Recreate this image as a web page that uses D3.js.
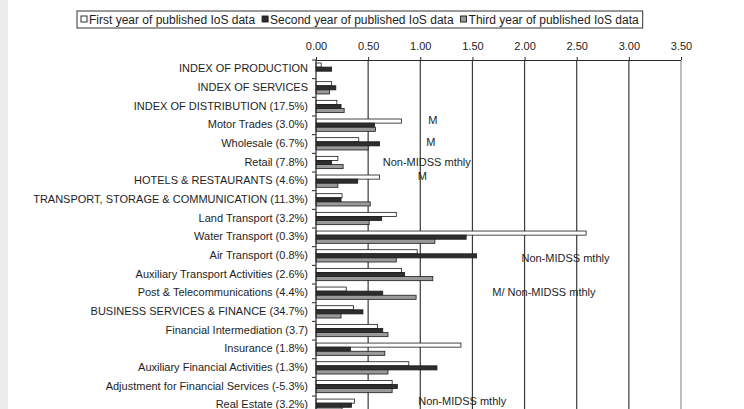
<!DOCTYPE html>
<html><head><meta charset="utf-8">
<script src="https://cdn.jsdelivr.net/npm/d3@7"></script>
<style>
html,body{margin:0;padding:0;background:#fff;overflow:hidden;}
svg{display:block;font-family:"Liberation Sans",Arial,sans-serif;}
</style></head>
<body>
<svg id="chart" width="744" height="409"></svg>
<script>
const categories = [
  "INDEX OF PRODUCTION",
  "INDEX OF SERVICES",
  "INDEX OF DISTRIBUTION (17.5%)",
  "Motor Trades (3.0%)",
  "Wholesale (6.7%)",
  "Retail (7.8%)",
  "HOTELS & RESTAURANTS (4.6%)",
  "TRANSPORT, STORAGE & COMMUNICATION (11.3%)",
  "Land Transport (3.2%)",
  "Water Transport (0.3%)",
  "Air Transport (0.8%)",
  "Auxiliary Transport Activities (2.6%)",
  "Post & Telecommunications (4.4%)",
  "BUSINESS SERVICES & FINANCE (34.7%)",
  "Financial Intermediation (3.7)",
  "Insurance (1.8%)",
  "Auxiliary Financial Activities (1.3%)",
  "Adjustment for Financial Services (-5.3%)",
  "Real Estate (3.2%)"
];
const seriesNames = [
  "First year of published IoS data",
  "Second year of published IoS data",
  "Third year of published IoS data"
];
const firstYear  = [0.05,0.15,0.20,0.82,0.41,0.21,0.61,0.25,0.77,2.59,0.97,0.82,0.29,0.36,0.59,1.39,0.89,0.73,0.37];
const secondYear = [0.15,0.19,0.24,0.56,0.61,0.15,0.40,0.24,0.63,1.44,1.54,0.85,0.64,0.45,0.64,0.33,1.16,0.78,0.34];
const thirdYear  = [0.00,0.13,0.27,0.57,0.50,0.26,0.21,0.52,0.51,1.14,0.77,1.12,0.96,0.24,0.69,0.66,0.69,0.73,0.25];
const tickValues = [0,0.5,1,1.5,2,2.5,3,3.5];
const annotations = [
  {cat:"Motor Trades (3.0%)", x:1.12, text:"M", anchor:"middle", dy:-4},
  {cat:"Wholesale (6.7%)", x:1.10, text:"M", anchor:"middle", dy:-1},
  {cat:"Retail (7.8%)", x:0.64, text:"Non-MIDSS mthly", anchor:"start", dy:0},
  {cat:"HOTELS & RESTAURANTS (4.6%)", x:1.02, text:"M", anchor:"middle", dy:-4},
  {cat:"Air Transport (0.8%)", x:1.97, text:"Non-MIDSS mthly", anchor:"start", dy:3},
  {cat:"Post & Telecommunications (4.4%)", x:1.69, text:"M/ Non-MIDSS mthly", anchor:"start", dy:0},
  {cat:"Real Estate (3.2%)", x:0.98, text:"Non-MIDSS mthly", anchor:"start", dy:-3}
];

(function(){
const series = [firstYear, secondYear, thirdYear];
const fills = ["#ffffff", "#2e2e2e", "#9a9a9a"];
const svg = d3.select("#chart");
const W = 744, H = 409;

svg.append("rect").attr("x",0).attr("y",0).attr("width",8).attr("height",H).attr("fill","#ececec");

const pl = 316, pr = 681, pt = 60;
const pitch = 18.67;
const x = d3.scaleLinear().domain([0,3.5]).range([pl,pr]);
const y = d3.scaleBand().domain(categories).range([pt, pt + pitch*categories.length]);
const yInner = d3.scaleBand().domain([0,1,2]).range([3, 15.3]);

svg.append("g").selectAll("line").data(tickValues.filter(v=>v>0 && v<3.5)).join("line")
  .attr("x1",d=>x(d)).attr("x2",d=>x(d)).attr("y1",pt).attr("y2",H)
  .attr("stroke","#3a3a3a").attr("stroke-width",1.2);
svg.append("line").attr("x1",x(3.5)).attr("x2",x(3.5)).attr("y1",pt).attr("y2",H)
  .attr("stroke","#bdbdbd").attr("stroke-width",2);

const groups = svg.append("g").selectAll("g").data(categories).join("g")
  .attr("transform", d=>`translate(0,${y(d)})`);
groups.selectAll("rect").data((d,i)=>series.map((s,k)=>({k, v:s[i]}))).join("rect")
  .attr("x", x(0))
  .attr("y", d=>yInner(d.k))
  .attr("width", d=>Math.max(0, x(d.v)-x(0)))
  .attr("height", yInner.bandwidth())
  .attr("fill", d=>fills[d.k])
  .attr("stroke", d=>d.v>0 ? "#1a1a1a" : "none")
  .attr("stroke-width", 0.8);

const xAxis = d3.axisTop(x).tickValues(tickValues).tickFormat(d3.format(".2f")).tickSize(3).tickPadding(7);
const gx = svg.append("g").attr("transform",`translate(0,${pt})`).call(xAxis);
gx.select(".domain").attr("stroke","#2a2a2a").attr("d",`M${pl},0.5H${pr}`);
gx.selectAll(".tick line").attr("stroke","#2a2a2a");
gx.selectAll(".tick text").attr("font-size",11).attr("fill","#222").attr("font-family","Liberation Sans, Arial, sans-serif");

const yTicks = d3.range(categories.length+1).map(i=>pt + i*pitch);
svg.append("line").attr("x1",pl).attr("x2",pl).attr("y1",pt).attr("y2",H).attr("stroke","#2a2a2a").attr("stroke-width",1.2);
svg.append("g").selectAll("line").data(yTicks).join("line")
  .attr("x1",pl-4).attr("x2",pl).attr("y1",d=>d).attr("y2",d=>d).attr("stroke","#2a2a2a");
svg.append("g").selectAll("text").data(categories).join("text")
  .attr("x", 308).attr("y", d=>y(d)+y.bandwidth()/2)
  .attr("text-anchor","end").attr("dominant-baseline","middle")
  .attr("font-size",11).attr("fill","#1e1e1e").text(d=>d);

svg.append("g").selectAll("text").data(annotations).join("text")
  .attr("x", d=>x(d.x)).attr("y", d=>y(d.cat)+y.bandwidth()/2 + d.dy)
  .attr("text-anchor", d=>d.anchor).attr("dominant-baseline","middle")
  .attr("font-size",11).attr("fill","#1e1e1e").text(d=>d.text);

const lg = svg.append("g");
const box = lg.append("rect").attr("y",11).attr("height",17).attr("fill","#fff").attr("stroke","#333").attr("stroke-width",1);
let cx = 81;
seriesNames.forEach((name,k)=>{
  lg.append("rect").attr("x",cx).attr("y",16).attr("width",6).attr("height",6)
    .attr("fill",fills[k]).attr("stroke","#1a1a1a").attr("stroke-width",0.9);
  const t = lg.append("text").attr("x",cx+8).attr("y",23.5).attr("font-size",12).attr("fill","#1e1e1e").text(name);
  cx = cx + 8 + t.node().getComputedTextLength() + 7;
});
box.attr("x",77).attr("width",cx - 3 - 77);
})();
</script>
</body></html>
